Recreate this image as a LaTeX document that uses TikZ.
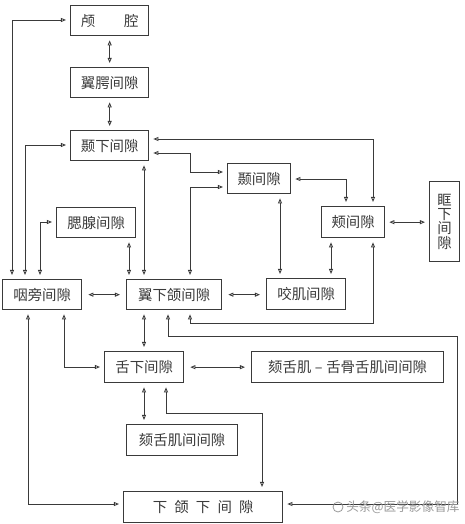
\documentclass[tikz,border=0pt]{standalone}
\usepackage{fontspec}
\setmainfont{Noto Sans CJK SC}
\usetikzlibrary{arrows.meta}
\definecolor{ln}{HTML}{3A3A3A}
\definecolor{wm}{HTML}{9A9A9A}
\begin{document}
\begin{tikzpicture}[x=0.75pt,y=-0.75pt,
  box/.style={draw=ln,line width=1pt,inner sep=0pt,text=ln,font=\fontsize{10.8}{10.8}\selectfont,anchor=north west,minimum height=22.5pt},
  hb/.style={minimum height=23.25pt},
  link/.style={draw=ln,line width=0.65pt,{Triangle[open,length=3.8pt,width=3pt]}-{Triangle[open,length=3.8pt,width=3pt]},shorten <=3pt,shorten >=3pt},
  wide/.style={link,shorten <=4.5pt,shorten >=4.5pt}]
\useasboundingbox (0,0) rectangle (464,524);
\fill[white] (0,0) rectangle (464,524);
% nodes
\node[box,minimum width=58.5pt] (lq) at (70,5) {颅\hspace{2em}腔};
\node[box,minimum width=58.5pt] (yp) at (70,67) {翼腭间隙};
\node[box,minimum width=58.5pt] (nx) at (70,130) {颞下间隙};
\node[box,minimum width=47.25pt] (nj) at (227,163) {颞间隙};
\node[box,hb,minimum width=47.25pt] (jj) at (321,206) {颊间隙};
\node[box,minimum width=22.5pt,minimum height=60pt,align=center] (kx) at (429,181) {眶\\下\\间\\隙};
\node[box,hb,minimum width=59.25pt] (yj) at (266,278) {咬肌间隙};
\node[box,minimum width=59.25pt] (sx) at (56,207) {腮腺间隙};
\node[box,minimum width=59.25pt] (ypang) at (2,279) {咽旁间隙};
\node[box,minimum width=71.25pt] (yxh) at (126,279) {翼下颌间隙};
\node[box,hb,minimum width=59.25pt] (sxj) at (104,351) {舌下间隙};
\node[box,hb,minimum width=144pt] (kg) at (251,351) {颏舌肌\hspace{0.25em}–\hspace{0.25em}舌骨舌肌间间隙};
\node[box,hb,minimum width=83.25pt] (kj) at (126,424) {颏舌肌间间隙};
\node[box,hb,minimum width=119.25pt] (xh) at (123,491) {下\hspace{0.5em}颌\hspace{0.5em}下\hspace{0.5em}间\hspace{0.5em}隙};
% bend coordinates
\coordinate (a12) at (12,20);
\coordinate (a25) at (25,145);
\coordinate (a40) at (40,222);
\coordinate (a129) at (129,0);
\coordinate (a144) at (144,0);
\coordinate (p8a) at (190,153);
\coordinate (p8b) at (190,172);
\coordinate (p9) at (190,187);
\coordinate (p10) at (373,139);
\coordinate (p11) at (346,179);
\coordinate (a280) at (280,0);
\coordinate (a331) at (331,0);
\coordinate (p17a) at (190,323);
\coordinate (p17b) at (373,323);
\coordinate (p18a) at (168,336);
\coordinate (p18b) at (457,336);
\coordinate (p18c) at (457,504);
\coordinate (p20) at (64,367);
\coordinate (p21) at (28,504);
\coordinate (p24a) at (166,413);
\coordinate (p24b) at (262,413);
% connectors
\draw[link] (lq.south) -- (yp.north);
\draw[link] (yp.south) -- (nx.north);
\draw[link] (ypang.north -| a12) -- (a12) -- (lq.west |- a12);
\draw[link] (ypang.north -| a25) -- (a25) -- (nx.west |- a25);
\draw[link] (ypang.north -| a40) -- (a40) -- (sx.west |- a40);
\draw[link] (sx.south -| a129) -- (yxh.north -| a129);
\draw[link] (nx.south -| a144) -- (yxh.north -| a144);
\draw[link] (nx.east |- p8a) -- (p8a) -- (p8b) -- (nj.west |- p8b);
\draw[link] (yxh.north -| p9) -- (p9) -- (nj.west |- p9);
\draw[link] (nx.east |- p10) -- (p10) -- (jj.north -| p10);
\draw[link] (nj.east |- p11) -- (p11) -- (jj.north -| p11);
\draw[link] (nj.south -| a280) -- (yj.north -| a280);
\draw[link] (jj.south -| a331) -- (yj.north -| a331);
\draw[link] (jj.east) -- (kx.west |- jj.east);
\draw[wide] (yxh.east) -- (yj.west |- yxh.east);
\draw[wide] (ypang.east) -- (yxh.west);
\draw[link] (yxh.south -| p17a) -- (p17a) -- (p17b) -- (jj.south -| p17b);
\draw[link] (yxh.south -| p18a) -- (p18a) -- (p18b) -- (p18c) -- (xh.east |- p18c);
\draw[link] (yxh.south -| a144) -- (sxj.north -| a144);
\draw[link] (ypang.south -| p20) -- (p20) -- (sxj.west |- p20);
\draw[link] (ypang.south -| p21) -- (p21) -- (xh.west |- p21);
\draw[wide] (sxj.east) -- (kg.west |- sxj.east);
\draw[link] (sxj.south -| a144) -- (kj.north -| a144);
\draw[link] (sxj.south -| p24a) -- (p24a) -- (p24b) -- (xh.north -| p24b);
% watermark
\node[text=wm,font=\fontsize{9.5}{11}\selectfont,inner sep=0pt,anchor=west] (wmk) at (346,507) {头条@医学影像智库};
\draw[wm,line width=0.6pt] (338,507) circle (5);
\end{tikzpicture}
\end{document}
